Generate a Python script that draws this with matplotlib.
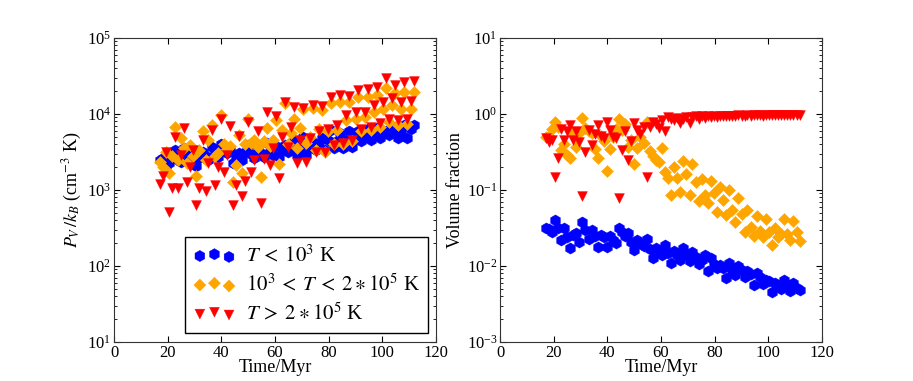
import matplotlib
matplotlib.use("Agg")
import matplotlib.pyplot as plt

plt.rcParams["font.family"] = ["Liberation Serif", "DejaVu Serif"]
plt.rcParams["mathtext.fontset"] = "stix"

# snapshot times (Myr)
times = [
    17.0, 18.1, 19.3, 20.4, 21.6, 22.7, 23.8, 25.0, 26.1, 27.3,
    28.4, 29.5, 30.7, 31.8, 33.0, 34.1, 35.2, 36.4, 37.5, 38.7,
    39.8, 40.9, 42.1, 43.2, 44.4, 45.5, 46.6, 47.8, 48.9, 50.1,
    51.2, 52.3, 53.5, 54.6, 55.8, 56.9, 58.0, 59.2, 60.3, 61.5,
    62.6, 63.7, 64.9, 66.0, 67.2, 68.3, 69.4, 70.6, 71.7, 72.9,
    74.0, 75.1, 76.3, 77.4, 78.6, 79.7, 80.8, 82.0, 83.1, 84.3,
    85.4, 86.5, 87.7, 88.8, 90.0, 91.1, 92.2, 93.4, 94.5, 95.7,
    96.8, 97.9, 99.1, 100.2, 101.4, 102.5, 103.6, 104.8, 105.9, 107.1,
    108.2, 109.3, 110.5, 111.6,
]

# volume-weighted pressure P_V / k_B (cm^-3 K)
pressure_cold = [
    2450, 2630, 2040, 2240, 2820, 3390, 2510, 2340, 3550, 2950,
    2750, 2400, 2040, 2630, 3160, 2820, 2450, 3720, 3020, 2750,
    4070, 3310, 3020, 3390, 2240, 2820, 3020, 2450, 3160, 3890,
    2950, 2630, 3310, 3020, 2750, 4170, 3160, 2880, 3800, 2750,
    3310, 3890, 3160, 3550, 4370, 2880, 3550, 5010, 2880, 3720,
    4270, 3310, 3980, 4790, 3390, 4570, 6170, 3550, 4470, 5620,
    3550, 4570, 5890, 3720, 4790, 6030, 4370, 5010, 6310, 4570,
    5250, 6460, 4790, 5500, 5890, 5250, 5750, 6760, 4790, 6030,
    7080, 4790, 6310, 7080,
]
pressure_warm = [
    2340, 2000, 3160, 1660, 2820, 6760, 2510, 4900, 3550, 2240,
    3890, 2820, 1510, 3310, 6030, 2510, 4570, 7240, 2820, 3020,
    9770, 3980, 3470, 3800, 1260, 2140, 5250, 1660, 3980, 8710,
    4170, 4570, 3720, 1480, 4370, 6610, 3800, 4570, 8320, 2190,
    6170, 13800, 4070, 5620, 8710, 3550, 6610, 11500, 4170, 5010,
    12000, 3390, 6310, 11200, 3160, 6030, 14100, 3980, 6170, 14500,
    4070, 8320, 14500, 4370, 8710, 16600, 5890, 9120, 16600, 6170,
    10500, 17800, 6760, 11700, 21900, 7940, 13200, 18600, 7080, 11700,
    19500, 7410, 11700, 19500,
]
pressure_hot = [
    1200, 1510, 3160, 513, 1050, 5010, 1050, 2880, 6460, 1260,
    2000, 3390, 631, 1050, 4570, 977, 2240, 6170, 1170, 2000,
    8710, 1740, 2880, 6920, 631, 1170, 5130, 832, 1320, 7940,
    1740, 2450, 5890, 676, 2570, 10500, 2140, 3550, 9330, 1450,
    5010, 14500, 3720, 6760, 12300, 2240, 4570, 12000, 2340, 4790,
    13200, 3160, 6030, 12600, 3160, 6310, 16600, 3890, 7080, 17800,
    4170, 9770, 17400, 4570, 10500, 20400, 6310, 10700, 21400, 6760,
    13200, 22900, 7590, 14500, 29500, 8710, 16200, 24000, 8320, 14500,
    26300, 8510, 14800, 26900,
]

# volume fractions
vfrac_cold = [
    0.0316, 0.0302, 0.0282, 0.0398, 0.0316, 0.0219, 0.0316, 0.0240, 0.0170, 0.0257,
    0.0269, 0.0209, 0.0380, 0.0295, 0.0229, 0.0295, 0.0251, 0.0178, 0.0257, 0.0240,
    0.0178, 0.0245, 0.0219, 0.0200, 0.0316, 0.0282, 0.0251, 0.0269, 0.0209, 0.0162,
    0.0219, 0.0200, 0.0182, 0.0224, 0.0166, 0.0126, 0.0174, 0.0158, 0.0141, 0.0191,
    0.0148, 0.0110, 0.0158, 0.0138, 0.0120, 0.0170, 0.0141, 0.0115, 0.0155, 0.0132,
    0.0107, 0.0120, 0.0141, 0.0085, 0.0126, 0.0105, 0.0093, 0.0102, 0.0095, 0.0069,
    0.0110, 0.0087, 0.0076, 0.0100, 0.0089, 0.0071, 0.0087, 0.0079, 0.0056, 0.0081,
    0.0072, 0.0058, 0.0066, 0.0063, 0.0046, 0.0060, 0.0055, 0.0050, 0.0066, 0.0054,
    0.0047, 0.0059, 0.0052, 0.0048,
]
vfrac_warm = [
    0.50, 0.52, 0.63, 0.79, 0.68, 0.34, 0.40, 0.29, 0.26, 0.56,
    0.37, 0.56, 0.89, 0.65, 0.59, 0.56, 0.35, 0.26, 0.52, 0.44,
    0.18, 0.35, 0.50, 0.63, 0.87, 0.62, 0.74, 0.37, 0.45, 0.22,
    0.36, 0.50, 0.42, 0.79, 0.33, 0.28, 0.25, 0.23, 0.36, 0.17,
    0.145, 0.085, 0.20, 0.145, 0.095, 0.24, 0.16, 0.085, 0.22, 0.126,
    0.071, 0.141, 0.085, 0.068, 0.132, 0.091, 0.051, 0.110, 0.074, 0.047,
    0.100, 0.055, 0.038, 0.078, 0.049, 0.028, 0.055, 0.033, 0.025, 0.045,
    0.029, 0.024, 0.041, 0.028, 0.019, 0.032, 0.024, 0.026, 0.041, 0.026,
    0.022, 0.039, 0.028, 0.021,
]
vfrac_hot = [
    0.48, 0.43, 0.46, 0.15, 0.26, 0.63, 0.46, 0.60, 0.72, 0.45,
    0.59, 0.43, 0.083, 0.32, 0.62, 0.39, 0.55, 0.71, 0.52, 0.48,
    0.79, 0.62, 0.50, 0.48, 0.078, 0.34, 0.59, 0.25, 0.44, 0.76,
    0.62, 0.55, 0.68, 0.15, 0.68, 0.79, 0.74, 0.65, 0.83, 0.59,
    0.91, 0.87, 0.83, 0.89, 0.76, 0.87, 0.91, 0.76, 0.91, 0.93,
    0.85, 0.93, 0.89, 0.93, 0.91, 0.95, 0.91, 0.95, 0.93, 0.95,
    0.93, 0.95, 0.94, 0.96, 0.95, 0.95, 0.96, 0.95, 0.96, 0.97,
    0.96, 0.95, 0.97, 0.96, 0.97, 0.96, 0.97, 0.96, 0.97, 0.97,
    0.96, 0.97, 0.97, 0.97,
]

phase_labels = [
    r"$T\:<\:10^3$ K",
    r"$10^3\:<\:T\:<\:2 \ast 10^5$ K",
    r"$T\:>\:2 \ast 10^5$ K",
]
phase_colors = ["#0000ff", "#ffa500", "#ff0000"]
phase_markers = ["h", "D", "v"]
phase_sizes = [65, 38, 50]


def style_axis(axis, ylim):
    axis.set_xlim(0, 120)
    axis.set_yscale("log")
    axis.set_ylim(*ylim)
    axis.set_xticks([0, 20, 40, 60, 80, 100, 120])
    axis.tick_params(which="both", direction="in", top=True, right=True,
                     labelsize=12, pad=2)
    axis.tick_params(which="major", length=4)
    axis.tick_params(which="minor", length=2)
    axis.set_xlabel("Time/Myr", fontsize=13, labelpad=-1)
    for spine in axis.spines.values():
        spine.set_color("#333333")


figure = plt.figure(figsize=(9.13, 3.81), dpi=100, facecolor="white")
left = figure.add_axes([0.1249, 0.1024, 0.3527, 0.798])
right = figure.add_axes([0.5477, 0.1024, 0.3527, 0.798])

pressures = [pressure_cold, pressure_warm, pressure_hot]
fractions = [vfrac_cold, vfrac_warm, vfrac_hot]
for values, label, color, marker, size in zip(
    pressures, phase_labels, phase_colors, phase_markers, phase_sizes
):
    left.scatter(times, values, s=size, marker=marker, color=color,
                 edgecolors=color, linewidths=0.3, label=label)
for values, color, marker, size in zip(
    fractions, phase_colors, phase_markers, phase_sizes
):
    right.scatter(times, values, s=size, marker=marker, color=color,
                  edgecolors=color, linewidths=0.3)

style_axis(left, (1e1, 1e5))
style_axis(right, (1e-3, 1e1))
left.set_ylabel(r"$P_V\,/k_B$ (cm$^{-3}$ K)", fontsize=13, labelpad=2)
right.set_ylabel("Volume fraction", fontsize=13, labelpad=2)

legend = left.legend(
    loc="lower right",
    bbox_to_anchor=(0.975, 0.03),
    borderaxespad=0,
    scatterpoints=3,
    fontsize=15,
    fancybox=False,
    framealpha=1,
    edgecolor="black",
    handletextpad=0.5,
    labelspacing=0.35,
    borderpad=0.4,
)
legend.get_frame().set_linewidth(1.0)

figure.savefig("out.png", dpi=100, facecolor="white")
